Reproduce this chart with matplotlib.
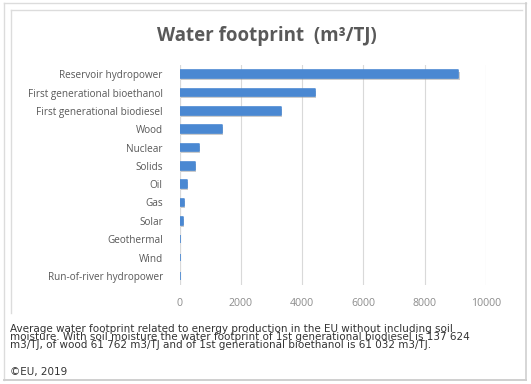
import matplotlib.pyplot as plt
import matplotlib.patheffects as pe
from matplotlib.lines import Line2D

# data (m3/TJ)
sources = ['Reservoir hydropower', 'First generational bioethanol', 'First generational biodiesel',
           'Wood', 'Nuclear', 'Solids', 'Oil', 'Gas', 'Solar', 'Geothermal', 'Wind',
           'Run-of-river hydropower']
footprint = [9100, 4420, 3300, 1380, 620, 500, 250, 135, 100, 25, 12, 12]
xticks = [0, 2000, 4000, 6000, 8000, 10000]

note = ('Average water footprint related to energy production in the EU without including soil\n'
        'moisture. With soil moisture the water footprint of 1st generational biodiesel is 137 624\n'
        'm3/TJ, of wood 61 762 m3/TJ and of 1st generational bioethanol is 61 032 m3/TJ.')
source = '\u00a9EU, 2019'

W, H = 531, 384
fig = plt.figure(figsize=(W / 100, H / 100), dpi=100)
fig.patch.set_facecolor('white')

# frames
def fline(x0, y0, x1, y1, c='#dcdcdc', lw=1.0):
    fig.add_artist(Line2D([x0 / W, x1 / W], [1 - y0 / H, 1 - y1 / H], color=c, lw=lw))

fline(4, 3, 526, 3)
fline(4, 3, 4, 380)
fline(526, 3, 526, 380, c='#cfcfcf', lw=1.2)
fline(4, 380, 526, 380, c='#cfcfcf', lw=1.4)
fline(10.5, 9.5, 521.5, 9.5)
fline(10.5, 9.5, 10.5, 313)

ax = fig.add_axes([179.5 / W, 1 - 285 / H, (486 - 179.5) / W, (285 - 65) / H])
ypos = list(range(len(sources)))
bars = ax.barh(ypos, footprint, height=0.42, color='#4a88d2', edgecolor='#4a88d2',
               linewidth=1.2, joinstyle='round', zorder=3)
for b in bars:
    b.set_path_effects([pe.SimplePatchShadow(offset=(0.8, -1.5), shadow_rgbFace='#9a9a9a', alpha=0.5),
                        pe.Normal()])

ax.set_ylim(len(sources) - 0.5, -0.5)
ax.set_xlim(0, 10000)
ax.set_xticks(xticks)
ax.set_xticklabels([str(t) for t in xticks], fontsize=7.6, color='#8c8c8c', family='Open Sans')
ax.set_yticks(ypos)
ax.set_yticklabels(sources, fontsize=7.2, color='#595959', family='Open Sans')
ax.tick_params(length=0)
ax.tick_params(axis='y', pad=12)
ax.tick_params(axis='x', pad=9)
for s in ax.spines.values():
    s.set_visible(False)
ax.grid(axis='x', color='#d9d9d9', lw=0.8, zorder=0)
ax.axvline(0, color='#d0d0d0', lw=0.8, zorder=1)

fig.text(267 / W, 1 - 36 / H, 'Water footprint  (m\u00b3/TJ)', ha='center', va='center',
         fontsize=13.5, fontweight='bold', color='#595959', family='Open Sans')

fig.text(10 / W, 1 - 347.5 / H, note, ha='left', va='baseline', fontsize=7.5, color='#333333',
         family='DejaVu Sans', linespacing=0.72)
fig.text(10 / W, 1 - 372.5 / H, source, ha='left', va='center', fontsize=7.5, color='#333333',
         family='DejaVu Sans')

fig.savefig('out.png', dpi=100, facecolor='white')
